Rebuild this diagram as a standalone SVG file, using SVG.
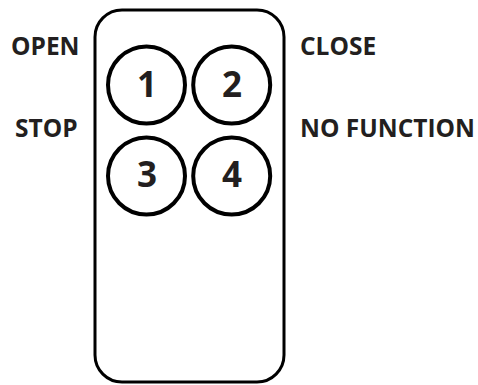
<svg xmlns="http://www.w3.org/2000/svg" width="478" height="385" viewBox="0 0 478 385">
  <style>
    .body { fill: #ffffff; stroke: #000000; stroke-width: 3; }
    .btn { fill: none; stroke: #000000; stroke-width: 4; }
    .num { font-family: "Open Sans", "Liberation Sans", sans-serif; font-weight: 700; font-size: 35px; fill: #231f20; text-anchor: middle; }
    .lbl { font-family: "Open Sans", "Liberation Sans", sans-serif; font-weight: 700; font-size: 24.5px; fill: #231f20; }
  </style>
  <rect width="478" height="385" fill="#ffffff"/>

  <!-- remote housing -->
  <g id="remote">
    <rect class="body" x="95" y="10" width="189" height="372" rx="27" ry="27"/>
  </g>

  <!-- buttons -->
  <g id="button-1">
    <circle class="btn" cx="146.5" cy="85" r="38.5"/>
    <text class="num" x="147" y="96.5">1</text>
  </g>
  <g id="button-2">
    <circle class="btn" cx="231.7" cy="85" r="38.5"/>
    <text class="num" x="232" y="96.5">2</text>
  </g>
  <g id="button-3">
    <circle class="btn" cx="146.5" cy="176" r="38.5"/>
    <text class="num" x="147" y="187">3</text>
  </g>
  <g id="button-4">
    <circle class="btn" cx="231.7" cy="176" r="38.5"/>
    <text class="num" x="232" y="187">4</text>
  </g>

  <!-- function labels -->
  <g id="label-open"><text class="lbl" x="11" y="55">OPEN</text></g>
  <g id="label-close"><text class="lbl" x="300" y="55">CLOSE</text></g>
  <g id="label-stop"><text class="lbl" x="15" y="137">STOP</text></g>
  <g id="label-nofunction"><text class="lbl" x="300" y="137">NO FUNCTION</text></g>

  <g id="connectors"/>
</svg>
